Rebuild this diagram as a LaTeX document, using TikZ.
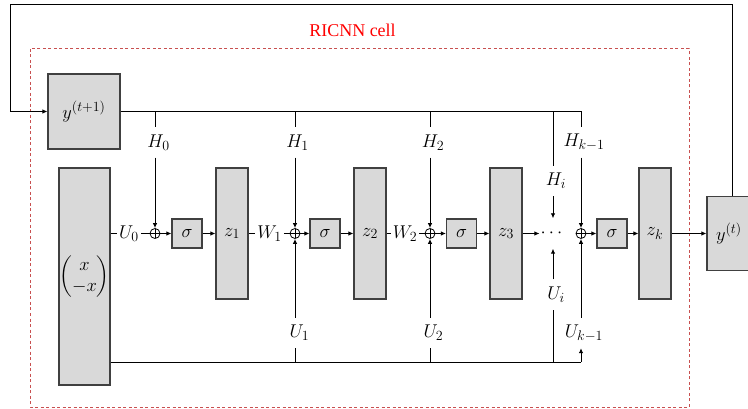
\RequirePackage{fix-cm}
\documentclass[tikz,border=0pt]{standalone}
\usepackage{amsmath}
\usepackage{fontspec}
\newfontfamily\timesf{Liberation Serif}
\DeclareMathSizes{18.5}{18.5}{14}{10.5}
\usetikzlibrary{arrows.meta,calc}
\definecolor{boxfill}{RGB}{217,217,217}
\definecolor{boxdraw}{RGB}{64,64,64}
\definecolor{dashred}{RGB}{200,80,80}
\tikzset{
  lbl/.style={font=\fontsize{18.5}{21}\selectfont, inner xsep=2pt, inner ysep=0pt, minimum height=30pt},
  gbox/.style={draw=boxdraw, fill=boxfill, line width=1.1pt, inner sep=0pt, font=\fontsize{18.5}{21}\selectfont},
  oplus/.style={circle, draw, line width=0.8pt, minimum size=10pt, inner sep=0pt,
    path picture={\draw[line width=0.8pt] (path picture bounding box.north) -- (path picture bounding box.south)
      (path picture bounding box.west) -- (path picture bounding box.east);}},
  conn/.style={line width=0.9pt},
  arr/.style={line width=0.9pt, -{Latex[length=5pt,width=4.5pt]}},
}
\begin{document}
\begin{tikzpicture}[x=1pt,y=-1pt]
\useasboundingbox (0,0) rectangle (748,409);
\clip (0,0) rectangle (748,409);
% red dashed cell
\draw[dashred, line width=1pt, dash pattern=on 3pt off 2.5pt] (30,49) rectangle (689,407);
\node[text=red, font=\fontsize{18}{20}\timesf\selectfont] (cell) at (352.5,30) {RICNN cell};

% boxes
\node[gbox, minimum width=72pt, minimum height=75pt] (ytp1) at (84,111.5) {$y^{(t+1)}$};
\node[gbox, minimum width=51pt, minimum height=217pt] (xbox) at (84.5,276.5) {$\begin{pmatrix} x\\ -x\end{pmatrix}$};
\node[gbox, minimum width=32pt, minimum height=131pt] (z1) at (232,233.5) {$z_1$};
\node[gbox, minimum width=32pt, minimum height=131pt] (z2) at (370,233.5) {$z_2$};
\node[gbox, minimum width=32pt, minimum height=131pt] (z3) at (506,233.5) {$z_3$};
\node[gbox, minimum width=32pt, minimum height=131pt] (zk) at (655,233.5) {$z_k$};
\node[gbox, minimum width=30pt, minimum height=29pt] (s1) at (187,233.5) {$\sigma$};
\node[gbox, minimum width=30pt, minimum height=29pt] (s2) at (325,233.5) {$\sigma$};
\node[gbox, minimum width=30pt, minimum height=29pt] (s3) at (461.5,233.5) {$\sigma$};
\node[gbox, minimum width=30pt, minimum height=29pt] (s4) at (612,233.5) {$\sigma$};
\node[gbox, minimum width=63pt, minimum height=74pt, text width=45pt, align=left, inner xsep=9pt] (yt) at (738.5,233.5) {$y^{(t)}$};

% oplus
\node[oplus] (o1) at (155,233.5) {};
\node[oplus] (o2) at (295,233.5) {};
\node[oplus] (o3) at (430,233.5) {};
\node[oplus] (o4) at (581,233.5) {};
\node[lbl, inner xsep=1pt] (dots) at (553,233.5) {$\cdots$};

% labels
\node[lbl] (U0) at (129,233.5) {$U_0$};
\node[lbl] (W1) at (269.5,233.5) {$W_1$};
\node[lbl] (W2) at (405,233.5) {$W_2$};
\node[lbl] (H0) at (158.5,142.5) {$H_0$};
\node[lbl] (H1) at (297.5,142.5) {$H_1$};
\node[lbl] (H2) at (433,142.5) {$H_2$};
\node[lbl] (Hk) at (584,142.5) {$H_{k-1}$};
\node[lbl] (Hi) at (556,181) {$H_i$};
\node[lbl] (U1) at (299.5,333) {$U_1$};
\node[lbl] (U2) at (433.5,333) {$U_2$};
\node[lbl] (Uk) at (584,333) {$U_{k-1}$};
\node[lbl] (Ui) at (556,294.5) {$U_i$};

\coordinate (tr) at (581,111.5);
\coordinate (br) at (581,362);
\coordinate (fb) at (10,4);

% outer feedback
\draw[arr] ([xshift=-6.5pt]yt.north) |- (fb) |- (ytp1.west);

% top bus
\draw[conn] (ytp1.east) -- (tr) -- (o4 |- Hk.north);
\draw[conn] (o1 |- tr) -- (o1 |- H0.north);
\draw[conn] (o2 |- tr) -- (o2 |- H1.north);
\draw[conn] (o3 |- tr) -- (o3 |- H2.north);
\draw[conn] (dots |- tr) -- (dots |- Hi.north);
\draw[arr] (o1 |- H0.south) -- (o1.north);
\draw[arr] (o2 |- H1.south) -- (o2.north);
\draw[arr] (o3 |- H2.south) -- (o3.north);
\draw[arr] (o4 |- Hk.south) -- (o4.north);
\draw[arr] (dots |- Hi.south) -- (dots.north);

% bottom bus
\draw[conn] (xbox.east |- br) -- (br);
\draw[arr] (br) -- (o4 |- Uk.south);
\draw[conn] (o2 |- br) -- (o2 |- U1.south);
\draw[conn] (o3 |- br) -- (o3 |- U2.south);
\draw[conn] (dots |- br) -- (dots |- Ui.south);
\draw[arr] (o2 |- U1.north) -- (o2.south);
\draw[arr] (o3 |- U2.north) -- (o3.south);
\draw[arr] (o4 |- Uk.north) -- (o4.south);
\draw[arr] (dots |- Ui.north) -- (dots.south);

% main row
\draw[conn] (xbox.east |- U0) -- (U0.west);
\draw[conn] (U0.east) -- (o1.west);
\draw[arr] (o1.east) -- (s1.west);
\draw[arr] (s1.east) -- (z1.west);
\draw[conn] (z1.east) -- (W1.west);
\draw[conn] (W1.east) -- (o2.west);
\draw[arr] (o2.east) -- (s2.west);
\draw[arr] (s2.east) -- (z2.west);
\draw[conn] (z2.east) -- (W2.west);
\draw[conn] (W2.east) -- (o3.west);
\draw[arr] (o3.east) -- (s3.west);
\draw[arr] (s3.east) -- (z3.west);
\draw[arr] (z3.east) -- (dots.west);
\draw[arr] (o4.east) -- (s4.west);
\draw[arr] (s4.east) -- (zk.west);
\draw[arr] (zk.east) -- (yt.west);
\end{tikzpicture}
\end{document}
